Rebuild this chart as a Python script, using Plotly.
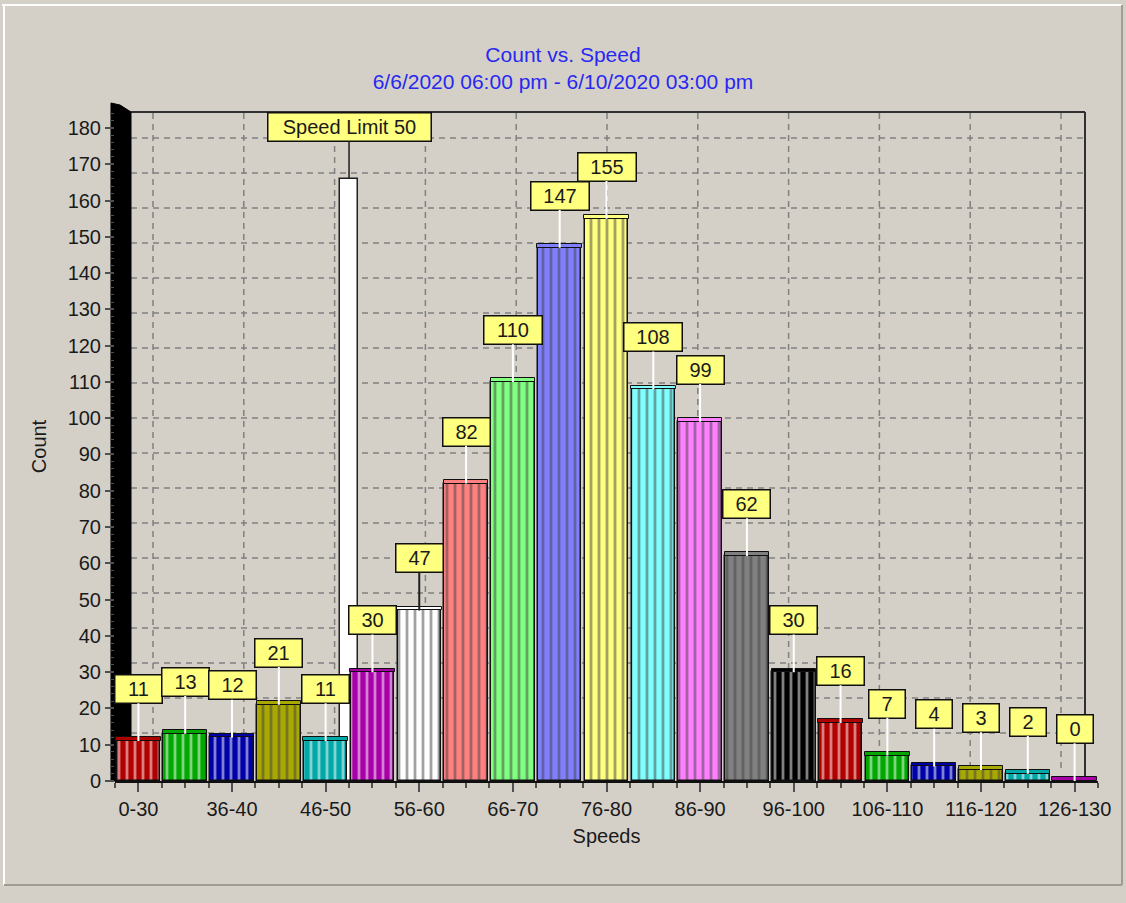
import plotly.graph_objects as go

# ---------------- data ----------------
categories = ["0-30", "31-35", "36-40", "41-45", "46-50", "51-55", "56-60",
              "61-65", "66-70", "71-75", "76-80", "81-85", "86-90", "91-95",
              "96-100", "101-105", "106-110", "111-115", "116-120", "121-125",
              "126-130"]
counts = [11, 13, 12, 21, 11, 30, 47, 82, 110, 147, 155, 108, 99, 62, 30,
          16, 7, 4, 3, 2, 0]
bar_colors = ["#B00000", "#00A800", "#0000A8", "#A8A800", "#00A8A8", "#A800A8",
              "#FFFFFF", "#FF8080", "#80FF80", "#8080FF", "#FFFF80", "#80FFFF",
              "#FF80FF", "#808080", "#000000", "#B00000", "#00A800", "#0000A8",
              "#A8A800", "#00A8A8", "#A800A8"]
speed_limit_label = "Speed Limit 50"
speed_limit_pos = [4.5]          # between 46-50 and 51-55
speed_limit_height = [166]
y_ticks = list(range(0, 190, 10))

title_line1 = "Count vs. Speed"
title_line2 = "6/6/2020 06:00 pm - 6/10/2020 03:00 pm"

# ---------------- layout geometry ----------------
W, H = 1126, 903
L, R, T, B = 115, 1098, 112, 781
PW, PH = R - L, B - T
Y_MAX = 184.4
BG = "#D4D0C8"
FONT = "Arial, Liberation Sans, sans-serif"

def px_x(px):
    return (px - L) / PW

def px_y(py):
    return (B - py) / PH

xs = list(range(len(categories)))

fig = go.Figure()

# speed limit marker bar (behind the others)
fig.add_trace(go.Bar(
    x=speed_limit_pos, y=speed_limit_height, width=0.4,
    marker=dict(color="#FFFFFF", line=dict(color="#202020", width=1.5)),
    hoverinfo="skip", showlegend=False))

# main bars
fig.add_trace(go.Bar(
    x=xs, y=counts, width=0.93,
    marker=dict(color=bar_colors, line=dict(color="#101010", width=1.5),
                pattern=dict(shape="|", fillmode="overlay", fgcolor="#101010",
                             size=8, solidity=0.35)),
    customdata=categories,
    hovertemplate="%{customdata}: %{y}<extra></extra>",
    showlegend=False))

# cylinder top caps
fig.add_trace(go.Bar(
    x=xs, y=[1.0] * len(xs), base=counts, width=0.95,
    marker=dict(color=bar_colors, line=dict(color="#101010", width=1)),
    hoverinfo="skip", showlegend=False))

shapes = []
# outer raised frame
shapes.append(dict(type="line", xref="paper", yref="paper",
                   x0=px_x(2), x1=px_x(1122), y0=px_y(5), y1=px_y(5),
                   line=dict(color="#FFFFFF", width=2), layer="below"))
shapes.append(dict(type="line", xref="paper", yref="paper",
                   x0=px_x(4), x1=px_x(4), y0=px_y(5), y1=px_y(885),
                   line=dict(color="#FFFFFF", width=2), layer="below"))
shapes.append(dict(type="line", xref="paper", yref="paper",
                   x0=px_x(4), x1=px_x(1122), y0=px_y(885), y1=px_y(885),
                   line=dict(color="#A09C94", width=2), layer="below"))
shapes.append(dict(type="line", xref="paper", yref="paper",
                   x0=px_x(1122), x1=px_x(1122), y0=px_y(5), y1=px_y(885),
                   line=dict(color="#A09C94", width=2), layer="below"))

# back-wall gridlines (perspective offset)
back_floor_py = 768
back_scale = 3.5
GRID = dict(color="#808080", width=1.5, dash="6px,5px")
for v in y_ticks[1:]:
    py = back_floor_py - back_scale * v
    shapes.append(dict(type="line", xref="paper", yref="paper",
                       x0=px_x(131), x1=px_x(1085), y0=px_y(py), y1=px_y(py),
                       line=GRID, layer="below"))
n_vgrid = 11
for k in range(n_vgrid):
    px = 153 + k * (1061 - 153) / (n_vgrid - 1)
    shapes.append(dict(type="line", xref="paper", yref="paper",
                       x0=px_x(px), x1=px_x(px), y0=px_y(back_floor_py), y1=px_y(T),
                       line=GRID, layer="below"))
# plot frame (top and right)
shapes.append(dict(type="line", xref="paper", yref="paper",
                   x0=px_x(131), x1=px_x(1085), y0=px_y(T), y1=px_y(T),
                   line=dict(color="#303030", width=2), layer="below"))
shapes.append(dict(type="line", xref="paper", yref="paper",
                   x0=px_x(1085), x1=px_x(1085), y0=px_y(T), y1=px_y(779),
                   line=dict(color="#303030", width=2), layer="below"))
# black left wall
def P(px, py):
    return f"{px_x(px):.5f},{px_y(py):.5f}"
wall_path = ("M " + P(111, 103) + " L " + P(120, 105) + " L " + P(131, 112) +
             " L " + P(131, 781) + " L " + P(111, 781) + " Z")
shapes.append(dict(type="path", xref="paper", yref="paper", path=wall_path,
                   fillcolor="#000000", line=dict(color="#000000", width=1),
                   layer="below"))

annotations = []
for x, v, c in zip(xs, counts, bar_colors):
    txt = str(v)
    annotations.append(dict(
        x=x, y=v, xref="x", yref="y", text=txt, showarrow=True,
        ax=0, ay=-52, arrowhead=0, arrowwidth=2, standoff=0,
        arrowcolor="#202020" if c == "#FFFFFF" else "#FFFFFF",
        bgcolor="#FFFF80", bordercolor="#101010", borderwidth=1.5,
        borderpad=1, width=int(11.2 * len(txt) + 22), height=25,
        font=dict(family=FONT, size=20, color="#1A1A1A")))
annotations.append(dict(
    x=speed_limit_pos[0], y=speed_limit_height[0], xref="x", yref="y",
    text=speed_limit_label, showarrow=True, ax=0, ay=-52, arrowhead=0,
    arrowwidth=1.5, standoff=0, arrowcolor="#202020",
    bgcolor="#FFFF80", bordercolor="#101010", borderwidth=1.5,
    borderpad=1, width=160, height=25,
    font=dict(family=FONT, size=20, color="#1A1A1A")))

fig.update_layout(
    width=W, height=H,
    margin=dict(l=L, r=W - R, t=T, b=H - B),
    paper_bgcolor=BG, plot_bgcolor=BG,
    barmode="overlay", bargap=0,
    font=dict(family=FONT, size=20, color="#1A1A1A"),
    title=dict(text=title_line1 + "<br>" + title_line2,
               x=0.5, xanchor="center", xref="container",
               y=1 - 62 / H, yanchor="middle", yref="container",
               font=dict(family=FONT, size=21, color="#2828F0")),
    shapes=shapes, annotations=annotations,
    xaxis=dict(range=[-0.5, 20.5], tickmode="array",
               tickvals=xs[::2], ticktext=categories[::2],
               ticks="outside", ticklen=9, tickwidth=1.5, tickcolor="#505050",
               minor=dict(dtick=0.5, tick0=0, ticks="outside", ticklen=5,
                          tickwidth=1.5, tickcolor="#505050", showgrid=False),
               showgrid=False, zeroline=False,
               showline=True, linecolor="#101010", linewidth=2,
               title=dict(text="Speeds", standoff=10,
                          font=dict(family=FONT, size=20, color="#1A1A1A")),
               tickfont=dict(family=FONT, size=20, color="#1A1A1A"),
               fixedrange=True),
    yaxis=dict(range=[0, Y_MAX], tickmode="array", tickvals=y_ticks,
               ticks="outside", ticklen=9, tickwidth=1.5, tickcolor="#505050",
               minor=dict(dtick=2, ticks="outside", ticklen=4, tickwidth=1,
                          tickcolor="#505050", showgrid=False),
               showgrid=False, zeroline=False, showline=False,
               title=dict(text="Count", standoff=15,
                          font=dict(family=FONT, size=20, color="#1A1A1A")),
               tickfont=dict(family=FONT, size=20, color="#1A1A1A"),
               fixedrange=True),
)

fig.write_html(
    "out.html",
    config={"displayModeBar": False},
    post_script="document.body.style.margin='0';"
                "document.body.style.background='#D4D0C8';")
